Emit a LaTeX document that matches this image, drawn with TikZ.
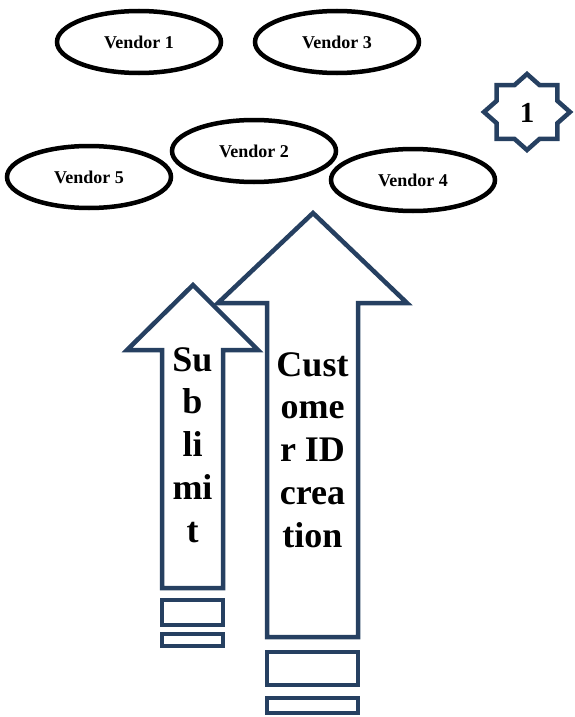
\documentclass[tikz,border=0pt]{standalone}
\usepackage{fontspec}
\setmainfont{Liberation Serif}
\usepackage{tikz}
\usetikzlibrary{shapes.geometric}
\definecolor{arrowblue}{RGB}{38,64,97}

\begin{document}
\begin{tikzpicture}[x=1pt, y=-1pt, line join=miter,
  vendor/.style={ellipse, draw=black, line width=4.5pt, minimum width=164pt, minimum height=62pt, inner sep=0pt, font=\fontsize{18}{20}\selectfont\bfseries},
  blockarrow/.style={draw=arrowblue, fill=white, line width=4.5pt},
  arrowtext/.style={align=center, inner sep=0pt, font=\fontsize{36}{42.75}\selectfont\bfseries}]
\useasboundingbox (0,0) rectangle (574,717);
\node (v1) at (139,42) [vendor] {Vendor 1};
\node (v3) at (337,42) [vendor] {Vendor 3};
\node (v2) at (254,151) [vendor] {Vendor 2};
\node (v5) at (89,177) [vendor] {Vendor 5};
\node (v4) at (413,180) [vendor] {Vendor 4};
% star with number
\draw[blockarrow] plot[samples at={0,...,15}, variable=\k] ({527+43*(1-0.235*mod(\k,2))*cos(22.5*\k)}, {112+38*(1-0.235*mod(\k,2))*sin(22.5*\k)}) -- cycle;
\node (one) at (527,113) [font=\fontsize{29}{30}\selectfont\bfseries] {1};
% big arrow
\draw[blockarrow] (267,637) -- (267,303) -- (218,303) -- (313,213) -- (407,303) -- (358,303) -- (358,637) -- cycle;
\draw[blockarrow] (267,652) rectangle (358,685);
\draw[blockarrow] (267,698) rectangle (358,713);
% small arrow
\draw[blockarrow] (162,588) -- (162,350) -- (127,350) -- (193,285) -- (258,350) -- (223,350) -- (223,588) -- cycle;
\draw[blockarrow] (162,600) rectangle (223,625);
\draw[blockarrow] (162,634) rectangle (223,646);
\node (custid) at (312.5,450) [arrowtext] {Cust\\ome\\r ID\\crea\\tion};
\node (sublimit) at (192.5,445) [arrowtext] {Su\\b\\li\\mi\\t};
\end{tikzpicture}
\end{document}
